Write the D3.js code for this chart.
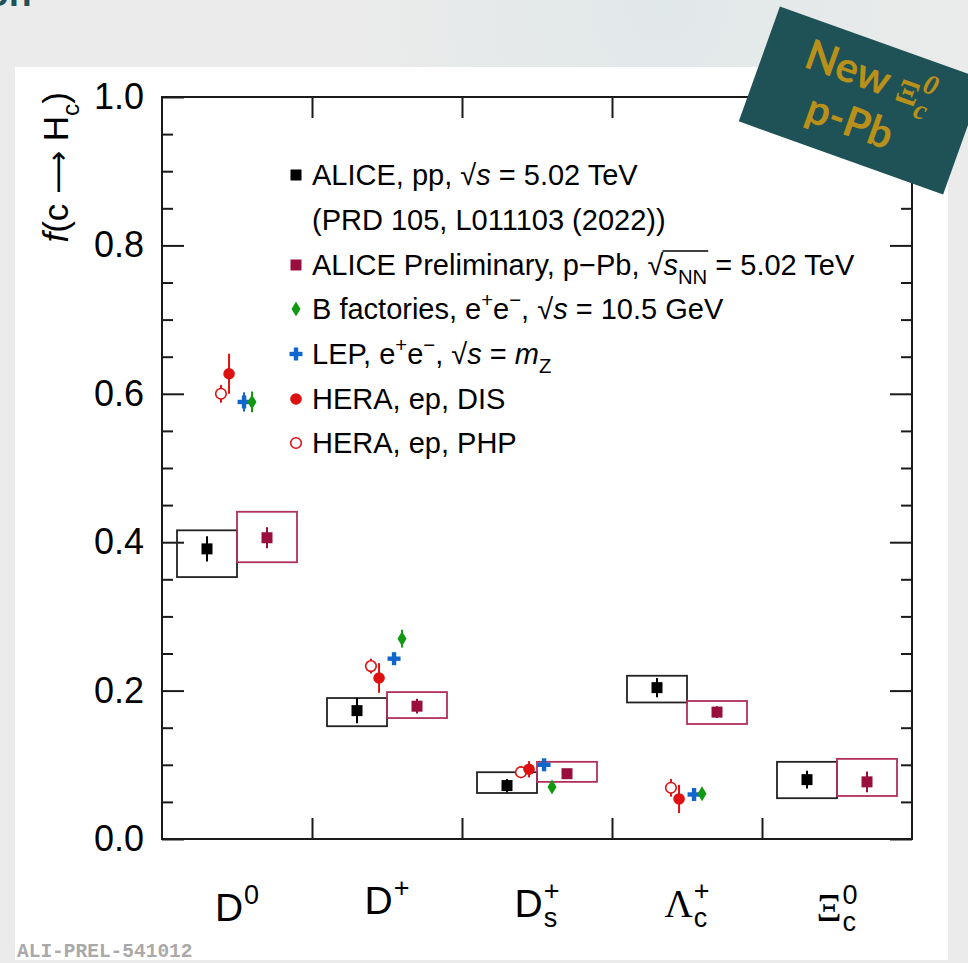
<!DOCTYPE html>
<html>
<head>
<meta charset="utf-8">
<script src="https://cdn.jsdelivr.net/npm/d3@7/dist/d3.min.js"></script>
<style>
  html, body { margin: 0; padding: 0; background: #ebebeb; }
  svg { display: block; }
</style>
</head>
<body>
<script>
// ---- Data: charm fragmentation fractions f(c -> Hc) ----
const categories = ["D0", "D+", "Ds+", "Lc+", "Xic0"];
const catBase = ["D", "D", "D", "Λ", "Ξ"];
const catSub  = ["", "", "s", "c", "c"];
const catSup  = ["0", "+", "+", "+", "0"];

// ALICE pp, sqrt(s) = 5.02 TeV
const ppValue = [0.391, 0.173, 0.072, 0.204, 0.080];
const ppStat  = [0.017, 0.017, 0.009, 0.013, 0.012];
const ppSysUp = [0.025, 0.017, 0.018, 0.016, 0.024];
const ppSysDn = [0.038, 0.021, 0.010, 0.020, 0.025];

// ALICE Preliminary, p-Pb, sqrt(sNN) = 5.02 TeV
const pPbValue = [0.406, 0.179, 0.088, 0.171, 0.077];
const pPbStat  = [0.014, 0.010, 0.005, 0.008, 0.014];
const pPbSysUp = [0.035, 0.019, 0.016, 0.015, 0.031];
const pPbSysDn = [0.033, 0.016, 0.011, 0.016, 0.019];

// B factories, LEP, HERA (D0, D+, Ds+, Lc+)
const bfValue   = [0.589, 0.270, 0.070, 0.061];
const bfErr     = [0.014, 0.012, 0.005, 0.006];
const lepValue  = [0.589, 0.243, 0.100, 0.060];
const lepErr    = [0.013, 0.008, 0.006, 0.006];
const disValue  = [0.627, 0.217, 0.094, 0.054];
const disErr    = [0.027, 0.020, 0.011, 0.019];
const phpValue  = [0.600, 0.233, 0.090, 0.069];
const phpErr    = [0.012, 0.010, 0.008, 0.012];

const yMajor = [0, 0.2, 0.4, 0.6, 0.8, 1.0];
const yMinor = d3.range(0, 1.0001, 0.05).filter(v => Math.abs(v * 5 - Math.round(v * 5)) > 1e-6);

// ---- Page ----
const W = 968, H = 963;
const svg = d3.select("body").append("svg").attr("width", W).attr("height", H);
const defs = svg.append("defs");
const rg = defs.append("radialGradient").attr("id", "tint")
  .attr("cx", 660).attr("cy", 10).attr("r", 320).attr("gradientUnits", "userSpaceOnUse");
rg.append("stop").attr("offset", 0).attr("stop-color", "#e1e8e9");
rg.append("stop").attr("offset", 1).attr("stop-color", "#ebebeb");

svg.append("rect").attr("width", W).attr("height", H).attr("fill", "#ebebeb");
svg.append("rect").attr("width", W).attr("height", 67).attr("fill", "url(#tint)");
svg.append("rect").attr("x", 15).attr("y", 67).attr("width", 933).attr("height", 893).attr("fill", "#ffffff");

// slide heading, cut off at the top edge
svg.append("text").attr("x", -14).attr("y", 6)
  .attr("font-family", "Lato, 'Liberation Sans', sans-serif").attr("font-weight", 700)
  .attr("font-size", 40).attr("fill", "#1e5256").text("on");

// ---- Scales ----
const x0 = 162, x1 = 912, yTop = 97, yBot = 839;
const x = d3.scaleBand().domain(categories).range([x0, x1]).padding(0);
const xEdge = d3.scaleLinear().domain([0, categories.length]).range([x0, x1]);
const y = d3.scaleLinear().domain([0, 1]).range([yBot, yTop]);
const bw = x.bandwidth();
const cx = c => x(c) + bw / 2;

const sansFont = "'Liberation Sans', Arial, Helvetica, sans-serif";
const serifFont = "'Liberation Serif', 'Times New Roman', serif";
const ink = "#1a1a1a";

// ---- Axes ----
const axes = svg.append("g");
function styleAxis(g) {
  g.select(".domain").remove();
  g.selectAll(".tick line").attr("stroke", ink).attr("stroke-width", 2);
}
axes.append("g").attr("transform", `translate(${x0},0)`)
  .call(d3.axisLeft(y).tickValues(yMajor).tickSize(-22).tickPadding(18).tickFormat(d3.format(".1f")))
  .call(styleAxis)
  .call(g => g.selectAll("text").attr("font-family", sansFont).attr("font-size", 36).attr("fill", "#000"));
axes.append("g").attr("transform", `translate(${x0},0)`)
  .call(d3.axisLeft(y).tickValues(yMinor).tickSize(-11).tickFormat("")).call(styleAxis);
axes.append("g").attr("transform", `translate(${x1},0)`)
  .call(d3.axisRight(y).tickValues(yMajor).tickSize(-22).tickFormat("")).call(styleAxis);
axes.append("g").attr("transform", `translate(${x1},0)`)
  .call(d3.axisRight(y).tickValues(yMinor).tickSize(-11).tickFormat("")).call(styleAxis);
axes.append("g").attr("transform", `translate(0,${yBot})`)
  .call(d3.axisBottom(xEdge).tickValues([1, 2, 3, 4]).tickSize(-21).tickFormat("")).call(styleAxis);
axes.append("g").attr("transform", `translate(0,${yTop})`)
  .call(d3.axisTop(xEdge).tickValues([1, 2, 3, 4]).tickSize(-21).tickFormat("")).call(styleAxis);
svg.append("rect").attr("x", x0).attr("y", yTop).attr("width", x1 - x0).attr("height", yBot - yTop)
  .attr("fill", "none").attr("stroke", ink).attr("stroke-width", 2);

// ---- Rich text helper (italic / sub / sup spans) ----
function richText(parent, xPos, yBase, fs, segs, family) {
  const t = parent.append("text").attr("x", xPos).attr("y", yBase)
    .attr("font-family", family || sansFont).attr("font-size", fs).attr("fill", "#000");
  let shift = 0;
  segs.forEach(s => {
    const seg = typeof s === "string" ? { t: s } : s;
    let target = 0, size = fs;
    if (seg.sub) { target = 0.3 * fs; size = 0.7 * fs; }
    if (seg.sup) { target = -0.42 * fs; size = 0.7 * fs; }
    const sp = t.append("tspan").attr("dy", target - shift).attr("font-size", size).text(seg.t);
    if (seg.i) sp.attr("font-style", "italic");
    if (seg.fam) sp.attr("font-family", seg.fam);
    if (seg.fs) sp.attr("font-size", seg.fs);
    shift = target;
  });
  return t;
}

// ---- Marker drawers ----
const colPP = "#000000", colPb = "#990e3d", colBF = "#119911", colLEP = "#1166cc", colHERA = "#dd1111";
const mk = {
  square: (g, px, py, col) => g.append("rect").attr("x", px - 5.5).attr("y", py - 5.5)
    .attr("width", 11).attr("height", 11).attr("fill", col),
  diamond: (g, px, py, col) => g.append("path")
    .attr("d", `M${px},${py - 7.5}L${px + 4.5},${py}L${px},${py + 7.5}L${px - 4.5},${py}Z`).attr("fill", col),
  plus: (g, px, py, col) => {
    g.append("rect").attr("x", px - 6.5).attr("y", py - 2.2).attr("width", 13).attr("height", 4.4).attr("fill", col);
    g.append("rect").attr("x", px - 2.2).attr("y", py - 6.5).attr("width", 4.4).attr("height", 13).attr("fill", col);
  },
  dot: (g, px, py, col) => g.append("circle").attr("cx", px).attr("cy", py).attr("r", 5.8).attr("fill", col),
  ring: (g, px, py, col) => g.append("circle").attr("cx", px).attr("cy", py).attr("r", 5.3)
    .attr("fill", "#fff").attr("stroke", col).attr("stroke-width", 1.6)
};

const plot = svg.append("g");

// systematic boxes
function sysBoxes(vals, up, dn, col, side) {
  plot.selectAll(null).data(categories).enter().append("rect")
    .attr("x", c => side < 0 ? cx(c) - 0.4 * bw : cx(c))
    .attr("width", 0.4 * bw)
    .attr("y", (c, i) => y(vals[i] + up[i]))
    .attr("height", (c, i) => y(vals[i] - dn[i]) - y(vals[i] + up[i]))
    .attr("fill", "none").attr("stroke", col).attr("stroke-width", 1.8);
}
sysBoxes(ppValue, ppSysUp, ppSysDn, "#222", -1);
sysBoxes(pPbValue, pPbSysUp, pPbSysDn, "#b0305a", 1);

function series(vals, errs, col, shape, offset) {
  vals.forEach((v, i) => {
    const px = cx(categories[i]) + offset * bw;
    plot.append("line").attr("x1", px).attr("x2", px)
      .attr("y1", y(v + errs[i])).attr("y2", y(v - errs[i]))
      .attr("stroke", col).attr("stroke-width", 2);
    mk[shape](plot, px, y(v), col);
  });
}
series(ppValue, ppStat, colPP, "square", -0.2);
series(pPbValue, pPbStat, colPb, "square", 0.2);
series(phpValue, phpErr, colHERA, "ring", -0.107);
series(disValue, disErr, colHERA, "dot", -0.053);
series(lepValue, lepErr, colLEP, "plus", 0.047);
series(bfValue, bfErr, colBF, "diamond", 0.1);

// ---- Category labels ----
const labelBase = [921, 914, 917, 917, 921];
categories.forEach((c, i) => {
  const g = svg.append("g");
  const fam = (catBase[i] === "D") ? sansFont : serifFont;
  const base = g.append("text").attr("y", labelBase[i]).attr("font-family", fam)
    .attr("font-size", 39).attr("fill", "#000").text(catBase[i]);
  const bwid = base.node().getComputedTextLength();
  const sup = g.append("text").attr("y", labelBase[i] - 17).attr("font-family", sansFont)
    .attr("font-size", 27).attr("fill", "#000").text(catSup[i]);
  const sub = g.append("text").attr("y", labelBase[i] + 10).attr("font-family", sansFont)
    .attr("font-size", 27).attr("fill", "#000").text(catSub[i]);
  const extra = Math.max(sup.node().getComputedTextLength(), sub.node().getComputedTextLength());
  const start = cx(c) - (bwid + 1 + extra) / 2;
  base.attr("x", start);
  sup.attr("x", start + bwid + 1);
  sub.attr("x", start + bwid + 1);
});

// ---- Y-axis title ----
const yt = svg.append("g").attr("transform", "translate(68,92) rotate(-90)");
richText(yt, 0, 0, 35, [{ t: "f", i: true }, "(c ", { t: "⟶", fam: "'DejaVu Sans', sans-serif", fs: 30 }, " H", { t: "c", sub: true }, { t: ")" }])
  .attr("text-anchor", "end");

// ---- Legend ----
const leg = svg.append("g");
const legX = 296, txtX = 312, legFs = 29;
const rows = [175, 220, 265, 309, 354, 399, 443];
const base = r => r + 10;
mk.square(leg, legX, rows[0], colPP);
richText(leg, txtX, base(rows[0]), legFs, ["ALICE, pp, √", { t: "s", i: true }, " = 5.02 TeV"]);
richText(leg, txtX, base(rows[1]), legFs, ["(PRD 105, L011103 (2022))"]);
mk.square(leg, legX, rows[2], colPb);
const row3 = richText(leg, txtX, base(rows[2]), legFs,
  ["ALICE Preliminary, p−Pb, √", { t: "s", i: true }, { t: "NN", sub: true }, " = 5.02 TeV"]);
{
  // overline of the radical across s_NN
  const node = row3.node();
  const txt = node.textContent;
  const iRad = txt.indexOf("√");
  const iEnd = txt.indexOf("NN") + 1;
  const xa = node.getEndPositionOfChar(iRad).x;
  const xb = node.getEndPositionOfChar(iEnd).x;
  leg.append("line").attr("x1", xa - 1).attr("x2", xb + 1)
    .attr("y1", base(rows[2]) - 24).attr("y2", base(rows[2]) - 24)
    .attr("stroke", "#000").attr("stroke-width", 1.4);
}
mk.diamond(leg, legX, rows[3], colBF);
richText(leg, txtX, base(rows[3]), legFs,
  ["B factories, e", { t: "+", sup: true }, "e", { t: "−", sup: true }, ", √", { t: "s", i: true }, " = 10.5 GeV"]);
mk.plus(leg, legX, rows[4], colLEP);
richText(leg, txtX, base(rows[4]), legFs,
  ["LEP, e", { t: "+", sup: true }, "e", { t: "−", sup: true }, ", √", { t: "s", i: true }, " = ", { t: "m", i: true }, { t: "Z", sub: true }]);
mk.dot(leg, legX, rows[5], colHERA);
richText(leg, txtX, base(rows[5]), legFs, ["HERA, ep, DIS"]);
mk.ring(leg, legX, rows[6], colHERA);
richText(leg, txtX, base(rows[6]), legFs, ["HERA, ep, PHP"]);

// ---- Preliminary tag ----
svg.append("text").attr("x", 17).attr("y", 957)
  .attr("font-family", "'Liberation Mono', 'Courier New', monospace").attr("font-weight", 700)
  .attr("font-size", 19.5).attr("fill", "#a9a9a9").text("ALI-PREL-541012");

// ---- Badge: rotated rectangle running off the right edge ----
const badge = svg.append("g").attr("transform", "translate(861.5,100.5) rotate(19.7)");
const gold = "#b8901a";
badge.append("rect").attr("x", -108.5).attr("y", -61).attr("width", 217).attr("height", 122)
  .attr("fill", "#1e5256");
const l1 = badge.append("text").attr("x", 0).attr("y", -12).attr("text-anchor", "middle")
  .attr("fill", gold).attr("font-weight", 700);
l1.append("tspan").attr("font-family", "Lato, 'Liberation Sans', sans-serif").attr("font-size", 42).text("New ");
l1.append("tspan").attr("font-family", serifFont).attr("font-size", 34).text("Ξ");
l1.append("tspan").attr("font-family", serifFont).attr("font-style", "italic").attr("font-size", 28)
  .attr("dy", 10).text("c");
l1.append("tspan").attr("font-family", serifFont).attr("font-style", "italic").attr("font-size", 28)
  .attr("dx", -12).attr("dy", -27).text("0");
badge.append("text").attr("x", -4).attr("y", 38).attr("text-anchor", "middle")
  .attr("fill", gold).attr("font-weight", 700)
  .attr("font-family", "Lato, 'Liberation Sans', sans-serif").attr("font-size", 42).text("p-Pb");
</script>
</body>
</html>
